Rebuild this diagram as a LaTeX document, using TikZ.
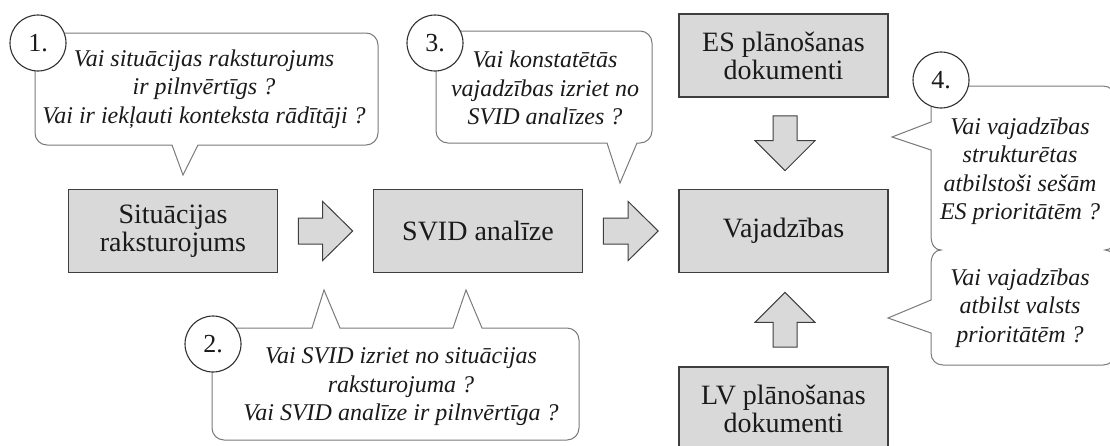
\documentclass[tikz,border=0pt]{standalone}
\usepackage{fontspec}
\setmainfont{Liberation Serif}
\usetikzlibrary{calc}
\definecolor{boxfill}{HTML}{D9D9D9}
\definecolor{boxline}{HTML}{3F3F3F}
\definecolor{bubline}{HTML}{7A7A7A}
\definecolor{circline}{HTML}{303030}
\definecolor{txt}{HTML}{1A1A1A}
\tikzset{
  mainbox/.style={draw=boxline, line width=1.6pt, fill=boxfill, minimum width=209pt,
    minimum height=83pt, align=center, inner sep=0pt, text=txt,
    font=\fontsize{28}{28}\selectfont},
  bubble/.style={draw=bubline, line width=1pt, fill=white},
  bubtext/.style={align=center, inner sep=0pt, text=txt,
    font=\fontsize{24}{28.5}\selectfont\itshape},
  numcirc/.style={circle, draw=circline, line width=1.1pt, fill=white, minimum size=56pt,
    inner sep=0pt, text=txt, font=\fontsize{26}{26}\selectfont},
  blockarrow/.style={draw=boxline, line width=1pt, fill=boxfill, line join=miter}
}
\begin{document}
\begin{tikzpicture}[x=1pt,y=-1pt]
\useasboundingbox (0,0) rectangle (1110,445);
\clip (0,0) rectangle (1110,445);

% main boxes
\node[mainbox] (b1) at (173,231) {Situācijas\\raksturojums};
\node[mainbox] (b2) at (478,231) {SVID analīze};
\node[mainbox] (b3) at (783.5,231) {Vajadzības};
\node[mainbox] (es) at (783.5,55.5) {ES plānošanas\\dokumenti};
\node[mainbox] (lv) at (783.5,408.5) {LV plānošanas\\dokumenti};

% block arrows (connectors)
\coordinate (a1s) at ($(b1.east)+(20,0)$);
\coordinate (a1e) at ($(b2.west)+(-20,0)$);
\draw[blockarrow] ($(a1s)+(0,-13)$) -- ($(a1e)+(-30,-13)$) -- ($(a1e)+(-30,-29.5)$) -- (a1e)
  -- ($(a1e)+(-30,29.5)$) -- ($(a1e)+(-30,13)$) -- ($(a1s)+(0,13)$) -- cycle;
\coordinate (a2s) at ($(b2.east)+(20,0)$);
\coordinate (a2e) at ($(b3.west)+(-20,0)$);
\draw[blockarrow] ($(a2s)+(0,-13)$) -- ($(a2e)+(-30,-13)$) -- ($(a2e)+(-30,-29.5)$) -- (a2e)
  -- ($(a2e)+(-30,29.5)$) -- ($(a2e)+(-30,13)$) -- ($(a2s)+(0,13)$) -- cycle;
\coordinate (a3s) at ($(es.south)+(1.5,18)$);
\coordinate (a3e) at ($(b3.north)+(1.5,-18)$);
\draw[blockarrow] ($(a3s)+(-12,0)$) -- ($(a3e)+(-12,-30)$) -- ($(a3e)+(-30,-30)$) -- (a3e)
  -- ($(a3e)+(30,-30)$) -- ($(a3e)+(12,-30)$) -- ($(a3s)+(12,0)$) -- cycle;
\coordinate (a4s) at ($(lv.north)+(1.5,-19)$);
\coordinate (a4e) at ($(b3.south)+(1.5,19)$);
\draw[blockarrow] ($(a4s)+(-12,0)$) -- ($(a4e)+(-12,30)$) -- ($(a4e)+(-30,30)$) -- (a4e)
  -- ($(a4e)+(30,30)$) -- ($(a4e)+(12,30)$) -- ($(a4s)+(12,0)$) -- cycle;

% callout 1
\draw[bubble] (183,175) -- (198,145) -- (210,145) [rounded corners=12pt] -- (378,145) -- (378,33)
  -- (35,33) -- (35,145) -- (160,145) [sharp corners] -- (172,145) -- cycle;
\node[bubtext] (t1) at (204,89) {Vai situācijas raksturojums\\ir pilnvērtīgs ?\\Vai ir iekļauti konteksta rādītāji ?};

% callout 3
\draw[bubble] (620,183) -- (637,143) -- (638,143) [rounded corners=12pt] -- (652,143) -- (652,31)
  -- (436,31) -- (436,143) -- (595,143) [sharp corners] -- (607,143) -- cycle;
\node[bubtext] (t3) at (545,88) {Vai konstatētās\\vajadzības izriet no\\SVID analīzes ?};

% callout 2
\draw[bubble] (324,290) -- (340,328) -- (350,328) -- (443,328) -- (453,328) -- (466,290) -- (482,328)
  -- (492,328) [rounded corners=12pt] -- (579,328) -- (579,440) -- (212,440) -- (212,328)
  -- (300,328) [sharp corners] -- (312,328) -- cycle;
\node[bubtext] (t2) at (401,387) {Vai SVID izriet no situācijas\\raksturojuma ?\\Vai SVID analīze ir pilnvērtīga ?};

% callout 4 (two joined bubbles)
\draw[bubble] (931,122) -- (892,137) -- (931,150) -- (931,235)
  .. controls (931,245) and (935,250) .. (941,250)
  .. controls (935,250) and (931,255) .. (931,265)
  -- (931,300) -- (888,318) -- (931,333) -- (931,353)
  .. controls (931,360) and (936,365) .. (943,365) -- (1103,365)
  .. controls (1110,365) and (1115,360) .. (1115,353) -- (1115,265)
  .. controls (1115,255) and (1111,250) .. (1105,250)
  .. controls (1111,250) and (1115,245) .. (1115,235) -- (1115,98)
  .. controls (1115,91) and (1110,86) .. (1103,86) -- (943,86)
  .. controls (936,86) and (931,91) .. (931,98) -- cycle;
\node[bubtext] (t4a) at (1020,171) {Vai vajadzības\\strukturētas\\atbilstoši sešām\\ES prioritātēm ?};
\node[bubtext] (t4b) at (1020,308) {Vai vajadzības\\atbilst valsts\\prioritātēm ?};

% number circles
\node[numcirc] (c1) at (38,43) {1.};
\node[numcirc] (c2) at (213,344) {2.};
\node[numcirc] (c3) at (435,43) {3.};
\node[numcirc] (c4) at (941,80) {4.};
\end{tikzpicture}
\end{document}
